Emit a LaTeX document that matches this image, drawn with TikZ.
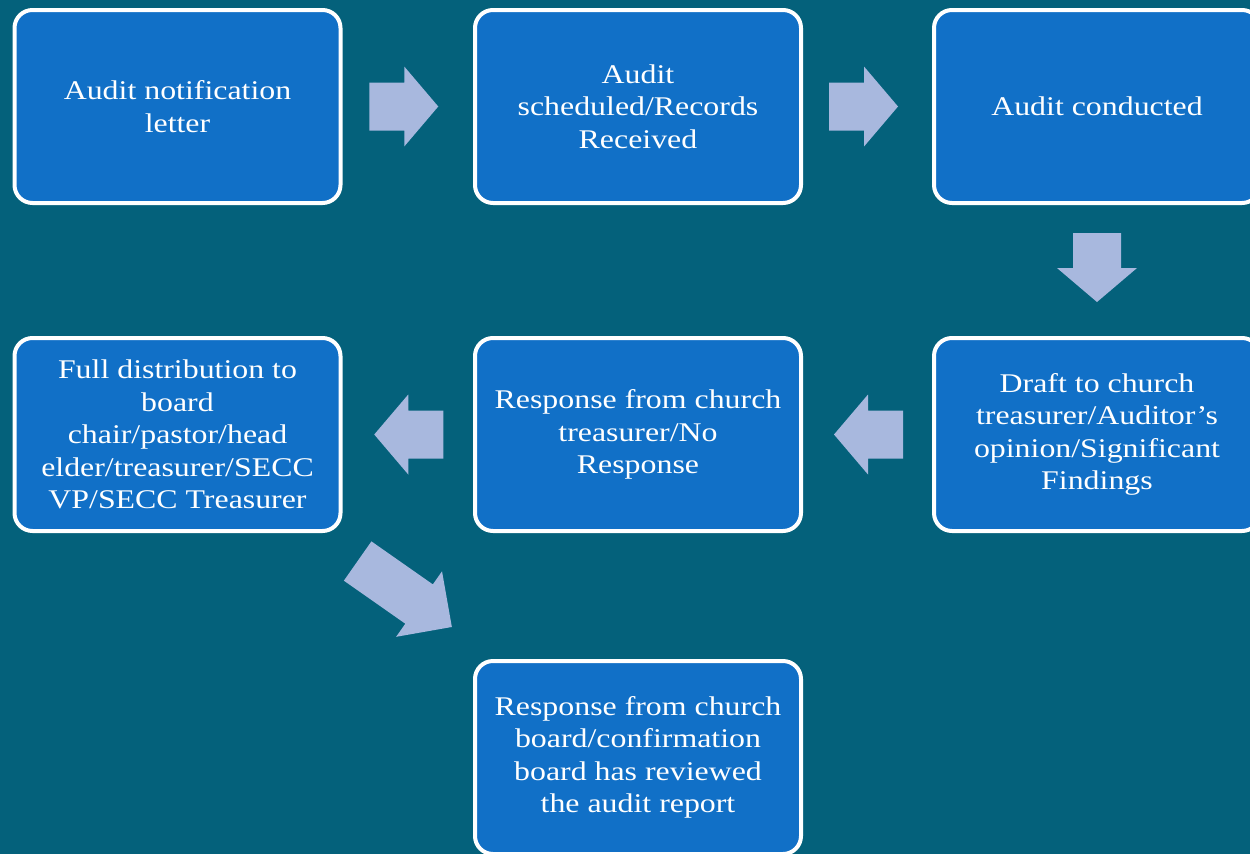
\documentclass[tikz,border=0pt]{standalone}
\usepackage{fontspec}
\setmainfont{Liberation Serif}[FakeStretch=1.18]
\usetikzlibrary{positioning,calc}
\definecolor{bgteal}{HTML}{04617B}
\definecolor{boxblue}{HTML}{1170C7}
\definecolor{arrowlav}{HTML}{A8B8DE}

\begin{document}
\begin{tikzpicture}[x=1pt,y=1pt,
  box/.style={draw=white,line width=4pt,fill=boxblue,rounded corners=18pt,
    minimum width=326pt,minimum height=193pt,text=white,align=center,
    font=\fontsize{27}{32.5}\selectfont},
  blockarrow/.style={fill=arrowlav}]
%%
\fill[bgteal] (0,0) rectangle (1250,-854);
\useasboundingbox (0,0) rectangle (1250,-854);
%% steps
\node (notice) at (177.5,-106.5) [box] {Audit notification\\letter};
  \node (sched) at (638,-106.5) [box] {Audit\\scheduled/Records\\Received};
  \node (conduct) at (1097,-106.5) [box] {Audit conducted};
  \node (draft) at (1097,-434.5) [box] {Draft to church\\treasurer/Auditor’s\\opinion/Significant\\Findings};
  \node (response) at (638,-434.5) [box] {Response from church\\treasurer/No\\Response};
  \node (distrib) at (177.5,-434.5) [box] {Full distribution to\\board\\chair/pastor/head\\elder/treasurer/SECC\\VP/SECC Treasurer};
  \node (review) at (638,-757.5) [box] {Response from church\\board/confirmation\\board has reviewed\\the audit report};
%% arrows between steps
\coordinate (a1) at ($(notice.east)!0.5!(sched.west)+(-4,0)$);
  \coordinate (a2) at ($(sched.east)!0.5!(conduct.west)+(-4,0)$);
  \coordinate (a3) at ($(conduct.south)!0.5!(draft.north)+(0,3)$);
  \coordinate (a4) at ($(draft.west)!0.5!(response.east)+(1,0)$);
  \coordinate (a5) at ($(response.west)!0.5!(distrib.east)+(1,0)$);
  \coordinate (a6) at ($(distrib)!0.5!(review)+(-3,2)$);
  \fill [blockarrow,shift={(a1)}] (-34.5,24) -- (0.5,24) -- (0.5,40) -- (34.5,0) -- (0.5,-40) -- (0.5,-24) -- (-34.5,-24) -- cycle;
  \fill [blockarrow,shift={(a2)}] (-34.5,24) -- (0.5,24) -- (0.5,40) -- (34.5,0) -- (0.5,-40) -- (0.5,-24) -- (-34.5,-24) -- cycle;
  \fill [blockarrow,shift={(a3)},rotate=-90] (-34.5,24) -- (0.5,24) -- (0.5,40) -- (34.5,0) -- (0.5,-40) -- (0.5,-24) -- (-34.5,-24) -- cycle;
  \fill [blockarrow,shift={(a4)},rotate=180] (-34.5,24) -- (0.5,24) -- (0.5,40) -- (34.5,0) -- (0.5,-40) -- (0.5,-24) -- (-34.5,-24) -- cycle;
  \fill [blockarrow,shift={(a5)},rotate=180] (-34.5,24) -- (0.5,24) -- (0.5,40) -- (34.5,0) -- (0.5,-40) -- (0.5,-24) -- (-34.5,-24) -- cycle;
  \fill [blockarrow,shift={(a6)},rotate=-35] (-57.5,24) -- (17.5,24) -- (17.5,40) -- (57.5,0) -- (17.5,-40) -- (17.5,-24) -- (-57.5,-24) -- cycle;
%
\end{tikzpicture}
\end{document}
